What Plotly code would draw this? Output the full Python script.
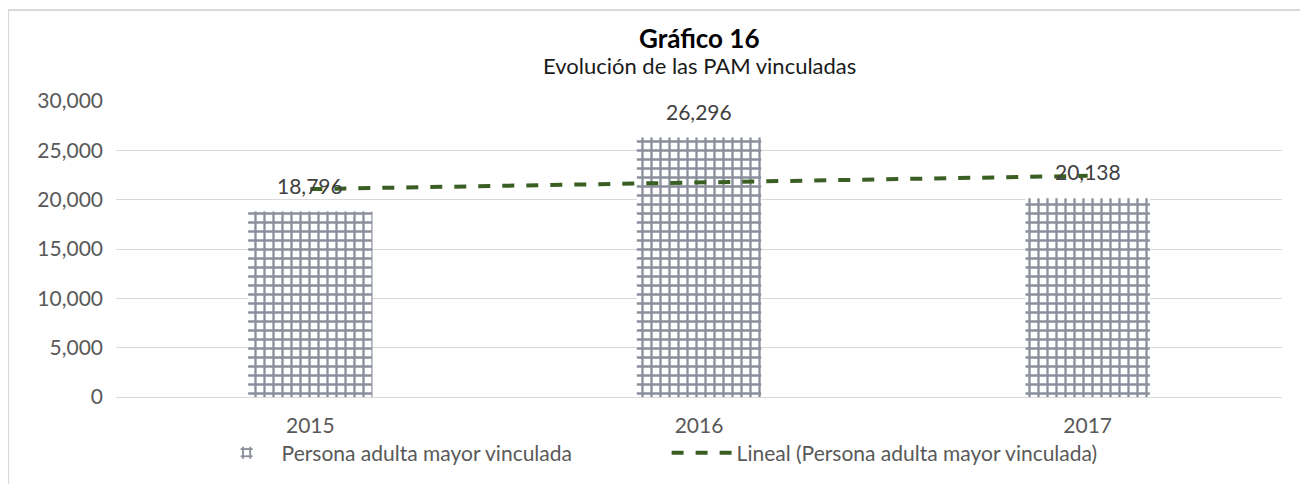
import numpy as np
import plotly.graph_objects as go

# datos
anios = ["2015", "2016", "2017"]
pam_vinculadas = [18796, 26296, 20138]
y_ticks = [0, 5000, 10000, 15000, 20000, 25000, 30000]

# linea de tendencia lineal (como la de Excel)
xs = np.arange(len(pam_vinculadas))
pend, inter = np.polyfit(xs, pam_vinculadas, 1)
tendencia = pend * xs + inter

FONT = "Lato"
GRIS = "#595959"

fig = go.Figure()

fig.add_trace(go.Bar(
    x=anios,
    y=pam_vinculadas,
    name="Persona adulta mayor vinculada",
    width=0.32,
    marker=dict(
        color="white",
        line=dict(width=0),
        pattern=dict(shape="+", fgcolor="#18203A", bgcolor="white",
                     size=9, solidity=0.45, fillmode="overlay"),
    ),
))

fig.add_trace(go.Scatter(
    x=anios,
    y=tendencia,
    mode="lines",
    name="Lineal (Persona adulta mayor vinculada)",
    line=dict(color="#3A5F22", width=4, dash="dash"),
    hoverinfo="skip",
))

# etiquetas de datos sobre las barras (x = indice de categoria)
for i, v in enumerate(pam_vinculadas):
    fig.add_annotation(x=i, y=v, text=f"{v:,}", showarrow=False,
                       yanchor="bottom", yshift=12,
                       font=dict(size=21, color="#404040", family=FONT))

# titulo y subtitulo
fig.add_annotation(xref="paper", yref="paper", x=0.5, y=1.2128,
                   yanchor="middle",
                   text="<b>Gráfico 16</b>", showarrow=False,
                   font=dict(size=26, color="#000000", family=FONT))
fig.add_annotation(xref="paper", yref="paper", x=0.5, y=1.1216,
                   yanchor="middle",
                   text="Evolución de las PAM vinculadas", showarrow=False,
                   font=dict(size=22, color="#1A1A1A", family=FONT))

fig.update_layout(
    width=1308, height=484,
    paper_bgcolor="white", plot_bgcolor="white",
    margin=dict(l=108, r=34, t=93, b=95, autoexpand=False),
    font=dict(family=FONT, size=20, color=GRIS),
    showlegend=True,
    legend=dict(
        orientation="h", x=0.082, xanchor="left", y=-0.12, yanchor="top",
        font=dict(size=21, color=GRIS), itemwidth=60,
        entrywidth=380, entrywidthmode="pixels",
        traceorder="normal",
    ),
    shapes=[
        dict(type="line", xref="paper", yref="paper",
             x0=-0.0926, x1=1.05, y0=1.3074, y1=1.3074,
             line=dict(color="#D9D9D9", width=2)),
        dict(type="line", xref="paper", yref="paper",
             x0=-0.0926, x1=-0.0926, y0=1.3074, y1=-0.35,
             line=dict(color="#D9D9D9", width=2)),
    ],
)

fig.update_yaxes(
    range=[0, 30000], tickvals=y_ticks, tickformat=",",
    showgrid=True, gridcolor="#D9D9D9", gridwidth=1,
    zeroline=False, showline=False, ticks="",
    tickfont=dict(size=21, color=GRIS), ticklabelstandoff=12,
)
fig.update_xaxes(
    type="category",
    showline=True, linecolor="#D9D9D9", linewidth=1,
    ticks="", tickfont=dict(size=21, color=GRIS), ticklabelstandoff=10,
)

fig.write_html("out.html")
